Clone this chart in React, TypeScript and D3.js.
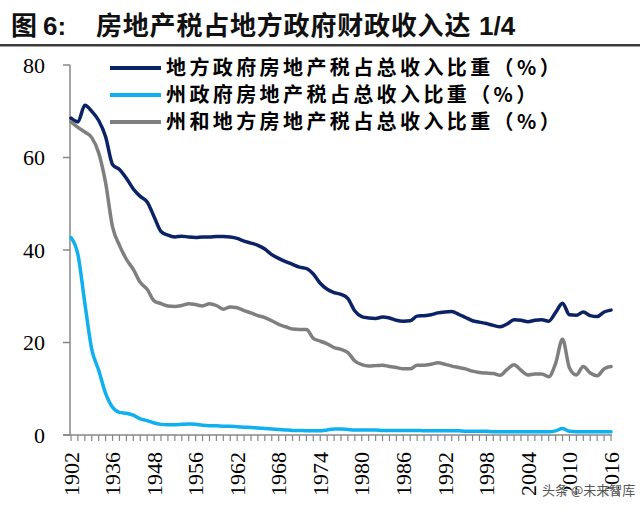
import * as d3 from "d3";

// census years on the category axis (irregular before 1953, then yearly)
const years = [
  1902, 1913, 1922, 1927, 1932, 1934, 1936, 1938, 1940, 1942, 1944, 1946, 1948,
  1950, 1952, 1953, 1954, 1955, 1956, 1957, 1958, 1959, 1960, 1961, 1962, 1963,
  1964, 1965, 1966, 1967, 1968, 1969, 1970, 1971, 1972, 1973, 1974, 1975, 1976,
  1977, 1978, 1979, 1980, 1981, 1982, 1983, 1984, 1985, 1986, 1987, 1988, 1989,
  1990, 1991, 1992, 1993, 1994, 1995, 1996, 1997, 1998, 1999, 2000, 2001, 2002,
  2003, 2004, 2005, 2006, 2007, 2008, 2009, 2010, 2011, 2012, 2013, 2014, 2015,
  2016,
];

const tickYears = [
  1902, 1936, 1948, 1956, 1962, 1968, 1974, 1980, 1986, 1992, 1998, 2004, 2010, 2016,
];

// 地方政府房地产税占总收入比重
const localShare = [
  68.5, 67.7, 71.3, 70.0, 68.0, 64.5, 58.5, 57.4, 55.5, 53.2, 51.6, 50.4, 47.2,
  44.0, 43.2, 42.8, 43.0, 42.8, 42.7, 42.8, 42.8, 42.9, 42.9, 42.8, 42.5, 41.9,
  41.5, 41.0, 40.2, 39.0, 38.2, 37.5, 36.9, 36.3, 36.0, 34.8, 32.8, 31.5, 30.8,
  30.4, 29.5, 26.8, 25.6, 25.3, 25.2, 25.5, 25.3, 24.8, 24.6, 24.7, 25.7, 25.8,
  26.0, 26.4, 26.6, 26.7, 26.1, 25.4, 24.7, 24.4, 24.1, 23.7, 23.4, 24.0, 24.9,
  24.8, 24.5, 24.8, 24.9, 24.6, 26.5, 28.5, 26.0, 25.9, 26.6, 25.8, 25.6, 26.6,
  27.0,
];

// 州政府房地产税占总收入比重
const stateShare = [
  42.7, 39.0, 28.5, 18.5, 14.0, 9.0, 6.0, 4.9, 4.7, 4.3, 3.5, 3.1, 2.6,
  2.3, 2.2, 2.2, 2.3, 2.4, 2.3, 2.1, 2.0, 2.0, 1.9, 1.9, 1.8, 1.7,
  1.6, 1.5, 1.4, 1.3, 1.2, 1.1, 1.0, 1.0, 0.9, 0.9, 0.9, 1.1, 1.3,
  1.3, 1.2, 1.1, 1.1, 1.1, 1.1, 1.0, 1.0, 1.0, 1.0, 1.0, 1.0, 0.9,
  0.9, 0.9, 0.9, 0.9, 0.9, 0.8, 0.8, 0.8, 0.8, 0.7, 0.7, 0.7, 0.7,
  0.7, 0.7, 0.7, 0.7, 0.7, 0.9, 1.4, 0.8, 0.7, 0.7, 0.7, 0.7, 0.7,
  0.7,
];

// 州和地方房地产税占总收入比重
const combinedShare = [
  67.7, 66.5, 65.5, 64.3, 61.0, 54.5, 45.0, 41.0, 38.0, 35.8, 33.0, 31.5, 29.0,
  28.4, 27.9, 27.8, 28.0, 28.4, 28.2, 27.9, 28.4, 28.0, 27.2, 27.7, 27.5, 26.9,
  26.4, 25.8, 25.4, 24.7, 23.9, 23.4, 22.9, 22.8, 22.8, 20.9, 20.3, 19.7, 18.9,
  18.5, 17.8, 16.0, 15.2, 14.9, 15.0, 15.1, 14.8, 14.6, 14.3, 14.3, 15.1, 15.1,
  15.3, 15.6, 15.3, 14.9, 14.6, 14.3, 13.8, 13.5, 13.4, 13.3, 12.9, 14.2, 15.2,
  14.0, 13.0, 13.2, 13.2, 12.6, 15.5, 20.7, 14.5, 13.0, 14.8, 13.4, 12.8, 14.3,
  14.8,
];

const yTicks = [0, 20, 40, 60, 80];

const series = [
  { name: "地方政府房地产税占总收入比重（%）", values: localShare, color: "#0b2267" },
  { name: "州政府房地产税占总收入比重（%）", values: stateShare, color: "#0fb0ef" },
  { name: "州和地方房地产税占总收入比重（%）", values: combinedShare, color: "#7f7f7f" },
];

const WIDTH = 640;
const HEIGHT = 512;
const AXIS_COLOR = "#878787";
const SERIF = "'Liberation Serif', 'Times New Roman', serif";
const CJK = "'Noto Sans CJK SC', sans-serif";
const ARIAL = "'Liberation Sans', Arial, sans-serif";

export default function App() {
  const x = d3.scaleLinear().domain([0, years.length - 1]).range([71, 611]);
  const y = d3.scaleLinear().domain([0, 80]).range([435, 65]);

  const line = d3
    .line<number>()
    .x((_, i) => x(i))
    .y((d) => y(d))
    .curve(d3.curveMonotoneX);

  return (
    <svg
      width={WIDTH}
      height={HEIGHT}
      style={{ position: "absolute", left: 0, top: 0, background: "#fff" }}
    >
      {/* title */}
      <g fontSize={26} fontWeight="bold" fill="#111">
        <text x={11} y={35} fontFamily={CJK}>图</text>
        <text x={43} y={35} fontFamily={ARIAL}>6:</text>
        <text x={96} y={35} fontFamily={CJK} letterSpacing={0.8}>
          房地产税占地方政府财政收入达
        </text>
        <text x={479} y={35} fontFamily={ARIAL}>1/4</text>
      </g>
      <rect x={0} y={44} width={WIDTH} height={2.5} fill="#3a3a3a" />

      {/* y axis */}
      <line x1={70} x2={70} y1={y(80)} y2={y(0)} stroke={AXIS_COLOR} strokeWidth={1.5} />
      {yTicks.map((t) => (
        <g key={t}>
          <line x1={63} x2={70} y1={y(t)} y2={y(t)} stroke={AXIS_COLOR} strokeWidth={1.5} />
          <text
            x={45}
            y={y(t)}
            dy="0.35em"
            textAnchor="end"
            fontSize={22}
            fontFamily={SERIF}
            fill="#000"
          >
            {t}
          </text>
        </g>
      ))}

      {/* x axis */}
      <line x1={63} x2={x(years.length - 1) + 1} y1={y(0)} y2={y(0)} stroke={AXIS_COLOR} strokeWidth={1.5} />
      {years.map((yr, i) => (
        <line
          key={yr}
          x1={x(i)}
          x2={x(i)}
          y1={y(0)}
          y2={y(0) + 6}
          stroke={AXIS_COLOR}
          strokeWidth={1.2}
        />
      ))}
      {tickYears.map((yr) => {
        const i = years.indexOf(yr);
        return (
          <text
            key={yr}
            transform={`translate(${x(i)},${y(0) + 17}) rotate(-90)`}
            dy="0.35em"
            textAnchor="end"
            fontSize={22}
            fontFamily={SERIF}
            fill="#000"
          >
            {yr}
          </text>
        );
      })}

      {/* lines */}
      {series.map((s) => (
        <path
          key={s.name}
          d={line(s.values) || ""}
          fill="none"
          stroke={s.color}
          strokeWidth={3.5}
          strokeLinejoin="round"
          strokeLinecap="round"
        />
      ))}

      {/* legend */}
      {series.map((s, k) => (
        <g key={s.name} transform={`translate(110,${68 + k * 27})`}>
          <line x1={0} x2={51} y1={0} y2={0} stroke={s.color} strokeWidth={4} />
          <text
            x={56}
            y={0}
            dy="0.36em"
            fontSize={20}
            fontWeight="bold"
            letterSpacing={3.4}
            fontFamily={CJK}
            fill="#000"
          >
            {s.name}
          </text>
        </g>
      ))}

      {/* watermark */}
      <text
        x={542}
        y={495}
        fontSize={13}
        fontFamily={CJK}
        fill="#555"
        stroke="#fff"
        strokeWidth={0.6}
        paintOrder="stroke"
      >
        头条 @未来智库
      </text>
    </svg>
  );
}
